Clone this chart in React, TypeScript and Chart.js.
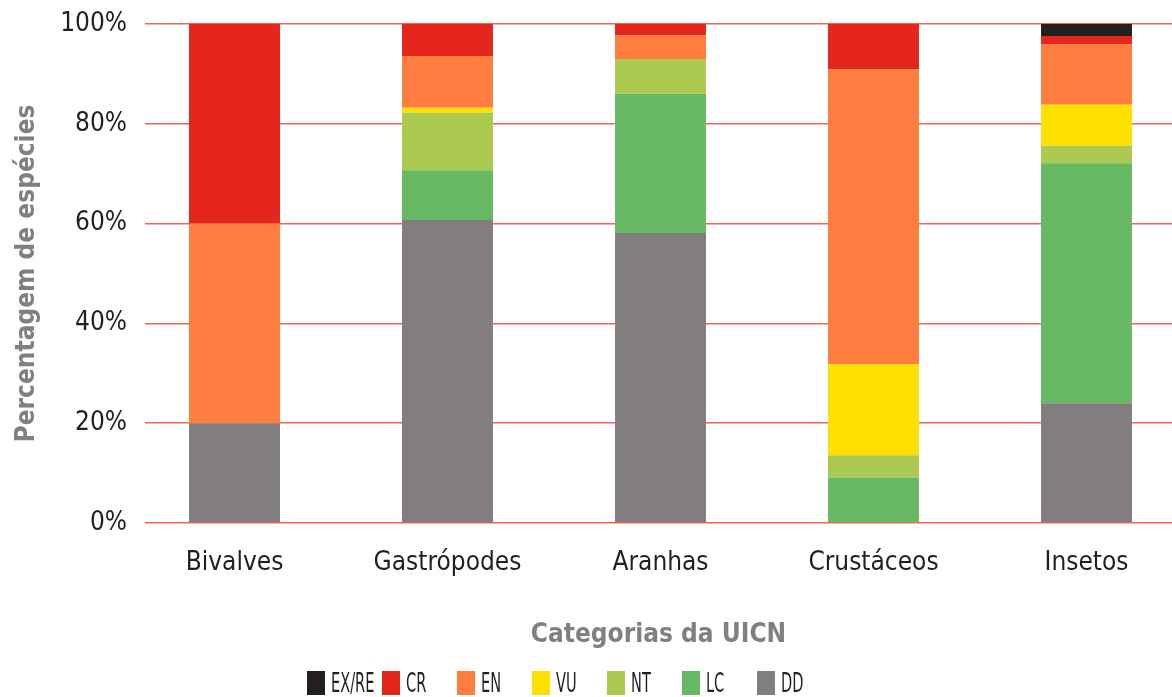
import React, { useEffect, useRef } from 'react';
import { Chart, registerables } from 'chart.js';

Chart.register(...registerables);

const categories = ['Bivalves', 'Gastrópodes', 'Aranhas', 'Crustáceos', 'Insetos'];
const seriesNames = ['EX/RE', 'CR', 'EN', 'VU', 'NT', 'LC', 'DD'];
const exRe = [0, 0, 0, 0, 2.4];
const cr = [40, 6.4, 2.3, 9.1, 1.6];
const en = [40, 10.4, 4.7, 59.1, 12.2];
const vu = [0, 1.0, 0, 18.2, 8.2];
const nt = [0, 11.5, 7.0, 4.5, 3.5];
const lc = [0, 10.0, 27.9, 9.1, 48.1];
const dd = [20, 60.7, 58.1, 0, 24.0];
const yTicks = [0, 20, 40, 60, 80, 100];
const yTitle = 'Percentagem de espécies';
const xTitle = 'Categorias da UICN';

const seriesColors = ['#231f20', '#e4261c', '#fe7d3f', '#ffe100', '#adca50', '#67b964', '#827d7e'];
const seriesValues = [exRe, cr, en, vu, nt, lc, dd];

const FONT = "'Liberation Sans Narrow', 'DejaVu Sans Condensed', Roboto, sans-serif";

export default function App() {
  const ref = useRef<HTMLCanvasElement | null>(null);

  useEffect(() => {
    if (!ref.current) return;
    // bottom of stack first: DD, LC, NT, VU, EN, CR, EX/RE
    const order = [6, 5, 4, 3, 2, 1, 0];
    const datasets = order.map((si) => ({
      label: seriesNames[si],
      data: seriesValues[si].map((v, i) => ({ x: i, y: v })),
      backgroundColor: seriesColors[si],
      borderWidth: 0,
      barPercentage: 0.427,
      categoryPercentage: 1,
    }));
    const chart = new Chart(ref.current, {
      type: 'bar',
      data: { datasets },
      options: {
        animation: false,
        responsive: false,
        maintainAspectRatio: false,
        layout: { padding: { top: 24, left: 0, right: 0, bottom: 0 } },
        plugins: { legend: { display: false }, tooltip: { enabled: false } },
        scales: {
          x: {
            type: 'linear',
            stacked: true,
            offset: false,
            min: -0.4202,
            max: 4.4014,
            afterBuildTicks: (s: any) => {
              s.ticks = categories.map((_, i) => ({ value: i }));
            },
            afterFit: (s: any) => {
              s.height = 697 - 523;
              s.paddingLeft = 0;
              s.paddingRight = 0;
            },
            grid: { display: false, drawTicks: false, offset: false },
            border: { display: false },
            ticks: {
              autoSkip: false,
              maxRotation: 0,
              padding: 25,
              color: '#231f20',
              font: { family: FONT, size: 26 },
              callback: (v: any) => categories[Number(v)] ?? '',
            },
            title: {
              display: true,
              text: xTitle,
              color: '#808083',
              font: { family: FONT, size: 26, weight: 'bold' },
              padding: { top: 0, bottom: 46 },
            },
          },
          y: {
            stacked: true,
            min: 0,
            max: 100,
            afterBuildTicks: (s: any) => {
              s.ticks = yTicks.map((v) => ({ value: v }));
            },
            afterFit: (s: any) => {
              s.width = 145;
              s.paddingTop = 0;
              s.paddingBottom = 0;
            },
            grid: { color: '#ef6454', lineWidth: 1.5, drawTicks: false },
            border: { display: false },
            ticks: {
              padding: 18,
              color: '#231f20',
              font: { family: FONT, size: 26 },
              callback: (v: any) => v + '%',
            },
            title: {
              display: true,
              text: yTitle,
              color: '#808083',
              font: { family: FONT, size: 26, weight: 'bold' },
              padding: { top: 12, bottom: 0 },
            },
          },
        },
      },
    });
    return () => chart.destroy();
  }, []);

  return (
    <div style={{ position: 'fixed', left: 0, top: 0, width: 1172, height: 697, background: '#fff', overflow: 'hidden' }}>
      <canvas ref={ref} width={1172} height={697} style={{ display: 'block', width: 1172, height: 697 }} />
      {seriesNames.map((name, i) => (
        <div key={name} style={{ position: 'absolute', left: 307 + i * 75, top: 671, height: 24 }}>
          <div style={{ position: 'absolute', left: 0, top: 0, width: 18, height: 24, background: seriesColors[i] }} />
          <div
            style={{
              position: 'absolute',
              left: 24,
              top: -5,
              fontFamily: FONT,
              fontSize: 27,
              lineHeight: '34px',
              color: '#231f20',
              whiteSpace: 'nowrap',
              transform: 'scaleX(0.6)',
              transformOrigin: 'left center',
            }}
          >
            {name}
          </div>
        </div>
      ))}
    </div>
  );
}
